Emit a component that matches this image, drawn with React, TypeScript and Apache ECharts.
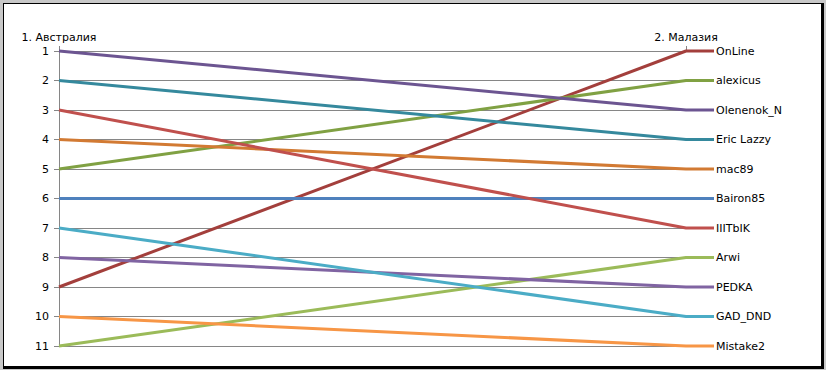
import React, { useEffect, useRef } from "react";
import * as echarts from "echarts";

const categories = ["1. Австралия", "2. Малазия"];
const players = ["OnLine", "alexicus", "Olenenok_N", "Eric Lazzy", "mac89", "Bairon85", "IIITbIK", "Arwi", "PEDKA", "GAD_DND", "Mistake2"];
const rankAustralia = [9, 5, 1, 2, 4, 6, 3, 11, 8, 7, 10];
const rankMalaysia = [1, 2, 3, 4, 5, 6, 7, 8, 9, 10, 11];
const colors = ["#A33F3C", "#80A143", "#6C5591", "#35899D", "#D27A33", "#4F81BD", "#C0504D", "#9BBB59", "#8064A2", "#4BACC6", "#F79646"];
const yTicks = [1, 2, 3, 4, 5, 6, 7, 8, 9, 10, 11];

const LABEL_X = 1.0447;
const FONT = "DejaVu Sans";

export default function App() {
  const ref = useRef<HTMLDivElement>(null);
  useEffect(() => {
    document.body.style.margin = "0";
    if (!ref.current) return;
    const chart = echarts.init(ref.current, null, { renderer: "svg" });
    const series = players.map((name, i) => ({
      type: "line",
      name,
      xAxisIndex: 1,
      yAxisIndex: 1,
      data: [
        [0, rankAustralia[i]],
        [1, rankMalaysia[i]],
        [LABEL_X, rankMalaysia[i]],
      ],
      clip: false,
      symbol: "none",
      lineStyle: { width: 3, color: colors[i] },
      itemStyle: { color: colors[i] },
      endLabel: {
        show: true,
        formatter: name,
        distance: 2,
        color: "#000",
        fontFamily: FONT,
        fontSize: 11,
      },
      z: 3,
    }));
    chart.setOption({
      animation: false,
      grid: [
        { left: 59, right: 140, top: 51, bottom: 24 },
        { left: 59, right: 112, top: 51, bottom: 24 },
      ],
      xAxis: [
        {
          type: "value",
          gridIndex: 0,
          position: "top",
          min: 0,
          max: 1,
          interval: 1,
          axisLine: { show: false },
          axisTick: { show: true, length: 5, lineStyle: { color: "#868686" } },
          splitLine: { show: false },
          axisLabel: {
            margin: 8,
            color: "#000",
            fontFamily: FONT,
            fontSize: 11,
            formatter: (v: number) => (v === 0 ? categories[0] : v === 1 ? categories[1] : ""),
          },
        },
        { type: "value", gridIndex: 1, min: 0, max: LABEL_X, show: false },
      ],
      yAxis: [
        {
          type: "value",
          gridIndex: 0,
          inverse: true,
          min: yTicks[0],
          max: yTicks[yTicks.length - 1],
          interval: 1,
          axisLine: { show: true, lineStyle: { color: "#868686", width: 1 } },
          axisTick: { show: true, length: 5, lineStyle: { color: "#868686" } },
          splitLine: { show: true, lineStyle: { color: "#868686", width: 1 } },
          axisLabel: { margin: 10, color: "#000", fontFamily: FONT, fontSize: 11 },
        },
        {
          type: "value",
          gridIndex: 1,
          inverse: true,
          min: yTicks[0],
          max: yTicks[yTicks.length - 1],
          show: false,
        },
      ],
      series,
    });
    return () => chart.dispose();
  }, []);
  return (
    <div style={{ position: "relative", width: 826, height: 370, background: "#c8c8c8" }}>
      <div
        style={{
          position: "absolute",
          left: 3,
          top: 3,
          width: 817,
          height: 362,
          background: "#fff",
          borderLeft: "1px solid #000",
          borderTop: "1px solid #000",
          borderRight: "3px solid #000",
          borderBottom: "3px solid #000",
        }}
      />
      <div ref={ref} style={{ position: "absolute", left: 0, top: 0, width: 826, height: 370 }} />
    </div>
  );
}
